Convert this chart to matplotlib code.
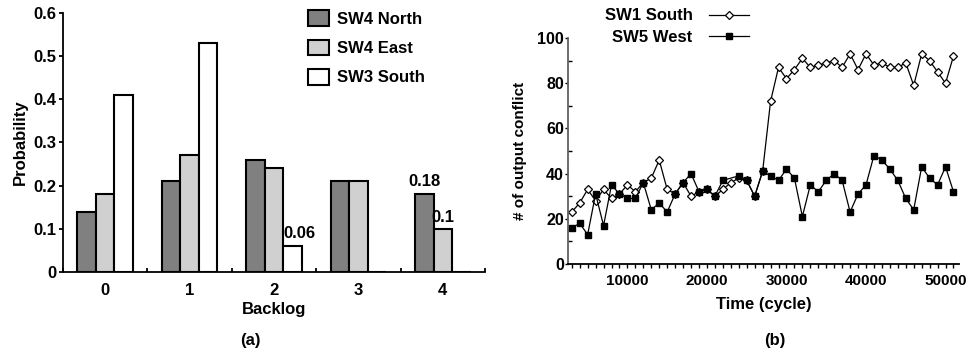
import matplotlib.pyplot as plt
import numpy as np
from matplotlib.ticker import FuncFormatter

plt.rcParams.update({
    "font.family": "Liberation Sans",
    "font.weight": "bold",
    "font.size": 12,
    "axes.labelweight": "bold",
    "axes.linewidth": 1.3,
})

# (a) backlog distribution
backlog = [0, 1, 2, 3, 4]
sw4_north = [0.14, 0.21, 0.26, 0.21, 0.18]
sw4_east = [0.18, 0.27, 0.24, 0.21, 0.10]
sw3_south = [0.41, 0.53, 0.06, 0, 0]

# (b) output conflicts over time
cycles = np.arange(3000, 52000, 1000)
sw1_south = [23, 27, 33, 28, 33, 29, 31, 35, 32, 36,
             38, 46, 33, 31, 36, 30, 32, 33, 30, 33,
             36, 38, 37, 30, 41, 72, 87, 82, 86, 91,
             87, 88, 89, 90, 87, 93, 86, 93, 88, 89,
             87, 87, 89, 79, 93, 90, 85, 80, 92]
sw5_west = [16, 18, 13, 31, 17, 35, 31, 29, 29, 36,
            24, 27, 23, 31, 36, 40, 32, 33, 30, 37,
            np.nan, 39, 37, 30, 41, 39, 37, 42, 38, 21,
            35, 32, 37, 40, 37, 23, 31, 35, 48, 46,
            42, 37, 29, 24, 43, 38, 35, 43, 32]

fig = plt.figure(figsize=(9.66, 3.56), dpi=100)
ax1 = fig.add_axes([0.0652, 0.236, 0.4369, 0.7275])
ax2 = fig.add_axes([0.588, 0.2584, 0.4048, 0.6348])

# ---- left: grouped bars
x = np.array(backlog)
w = 0.22
ax1.bar(x - w, sw4_north, w, color='#808080', edgecolor='black', lw=1.5, label='SW4 North')
ax1.bar(x, sw4_east, w, color='#d0d0d0', edgecolor='black', lw=1.5, label='SW4 East')
ax1.bar(x + w, sw3_south, w, color='white', edgecolor='black', lw=1.5, label='SW3 South')

ax1.annotate('0.18', (4 - w, sw4_north[4]), xytext=(0, 4), textcoords='offset points',
             ha='center', va='bottom')
ax1.annotate('0.1', (4, sw4_east[4]), xytext=(0, 3), textcoords='offset points',
             ha='center', va='bottom')
ax1.annotate('0.06', (2 + w, sw3_south[2]), xytext=(5, 4), textcoords='offset points',
             ha='center', va='bottom')

ax1.set_xlim(-0.5, 4.5)
ax1.set_ylim(0, 0.6)
ax1.set_xticks(x)
ax1.set_xticks(np.arange(-0.5, 5, 1), minor=True)
ax1.tick_params(axis='x', which='major', length=0, pad=8)
ax1.tick_params(axis='x', which='minor', direction='in', length=3, width=1.3)
ax1.set_yticks(np.arange(0, 0.61, 0.1))
ax1.yaxis.set_major_formatter(FuncFormatter(lambda v, p: '0' if abs(v) < 1e-9 else '%.1f' % v))
ax1.tick_params(axis='y', direction='out', length=3, width=1.3, pad=2)
for s in ['top', 'right']:
    ax1.spines[s].set_visible(False)
ax1.set_xlabel('Backlog', labelpad=3)
ax1.set_ylabel('Probability', labelpad=4)
ax1.legend(loc='upper left', bbox_to_anchor=(0.3116, 0.99), bbox_transform=fig.transFigure,
           frameon=False, handlelength=1.3, handleheight=1.05, handletextpad=0.45,
           labelspacing=0.78, borderaxespad=0)

fig.text(250 / 966, 1 - 340 / 356, '(a)', ha='center', va='center')

# ---- right: lines
south = np.array(sw1_south, dtype=float)
west = np.array(sw5_west, dtype=float)
ok = ~np.isnan(west)
ax2.plot(cycles, south, '-', color='black', lw=0.9, marker='D', ms=4.4,
         mfc='white', mec='black', mew=0.9, label='SW1 South', zorder=2)
ax2.plot(cycles[ok], west[ok], '-', color='black', lw=0.9, marker='s', ms=4.8,
         mfc='black', mec='black', label='SW5 West', zorder=3)

ax2.set_xlim(2530, 51700)
ax2.set_ylim(0, 100)
ax2.set_xticks([10000, 20000, 30000, 40000, 50000])
ax2.set_xticks(np.arange(3000, 52000, 1000), minor=True)
ax2.tick_params(axis='x', which='both', direction='out', length=3, width=1, pad=4, labelsize=11)
ax2.set_yticks(np.arange(0, 101, 20))
ax2.set_yticks(np.arange(10, 100, 20), minor=True)
ax2.tick_params(axis='y', which='major', direction='out', length=2, width=1, pad=1, labelsize=11.5)
ax2.tick_params(axis='y', which='minor', direction='in', length=3, width=1)
for s in ['top', 'right']:
    ax2.spines[s].set_visible(False)
ax2.spines['left'].set_color('#606060')
ax2.set_xlabel('Time (cycle)', labelpad=7)
ax2.set_ylabel('# of output conflict', fontsize=11, labelpad=7)
ax2.legend(loc='upper left', bbox_to_anchor=(0.619, 0.995), bbox_transform=fig.transFigure,
           frameon=False, markerfirst=False, handlelength=2.4, handletextpad=1.0,
           labelspacing=0.38, borderaxespad=0)

fig.text(775 / 966, 1 - 340 / 356, '(b)', ha='center', va='center')

fig.savefig('out.png', dpi=100)
